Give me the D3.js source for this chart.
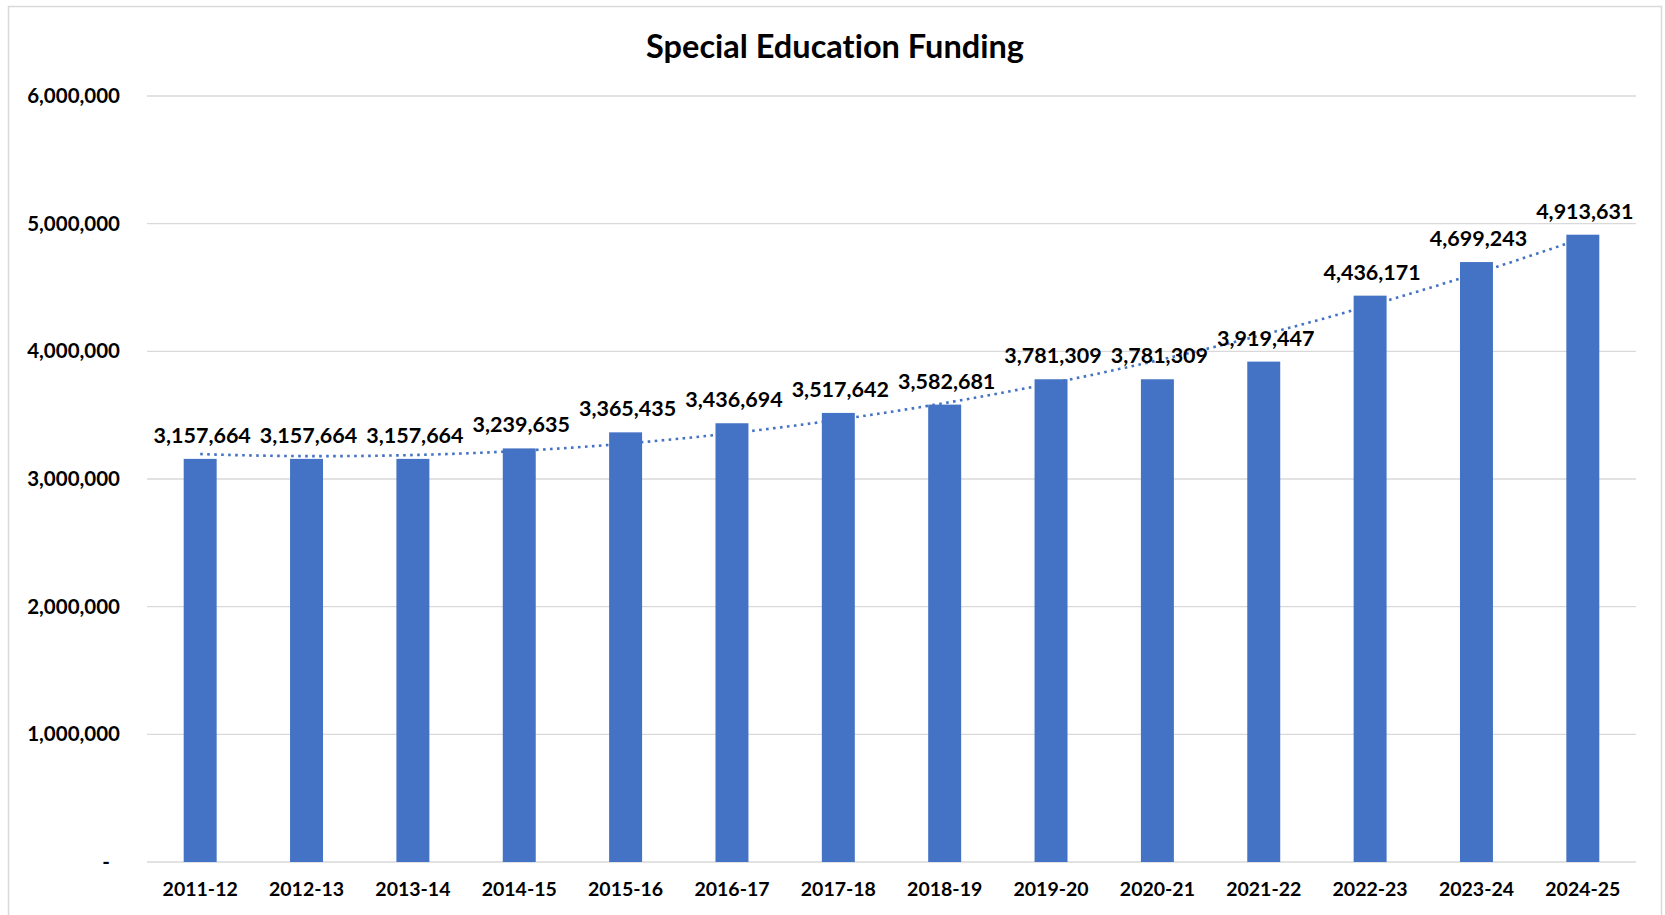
<!DOCTYPE html>
<html>
<head>
<meta charset="utf-8">
<script src="https://cdn.jsdelivr.net/npm/d3@7"></script>
<style>
  html, body { margin: 0; padding: 0; background: #fff; }
  svg { display: block; }
  text { font-family: Lato, "Open Sans", sans-serif; font-weight: 700; fill: #000; font-variant-ligatures: none; }
</style>
</head>
<body>
<svg id="chart" width="1665" height="915"></svg>
<script>
// School years on the category axis
const years = ["2011-12", "2012-13", "2013-14", "2014-15", "2015-16", "2016-17", "2017-18",
               "2018-19", "2019-20", "2020-21", "2021-22", "2022-23", "2023-24", "2024-25"];
// Funding amount per year
const funding = [3157664, 3157664, 3157664, 3239635, 3365435, 3436694, 3517642,
                 3582681, 3781309, 3781309, 3919447, 4436171, 4699243, 4913631];
// Value-axis ticks
const yTicks = [0, 1000000, 2000000, 3000000, 4000000, 5000000, 6000000];

const svg = d3.select("#chart");
const plot = { left: 147, right: 1636, top: 96, bottom: 862 };
const barColor = "#4472C4";

// Outer chart border
svg.append("rect")
  .attr("x", 8.5).attr("y", 6.5)
  .attr("width", 1653).attr("height", 930)
  .attr("fill", "#fff").attr("stroke", "#d9d9d9").attr("stroke-width", 1.5);

const x = d3.scaleBand().domain(years).range([plot.left, plot.right]).paddingInner(0.69).paddingOuter(0.345);
const y = d3.scaleLinear().domain([0, 6000000]).range([plot.bottom, plot.top]);

// Gridlines
svg.append("g")
  .selectAll("line").data(yTicks).join("line")
  .attr("x1", plot.left).attr("x2", plot.right)
  .attr("y1", d => y(d)).attr("y2", d => y(d))
  .attr("stroke", "#d9d9d9").attr("stroke-width", 1.3);

// Value axis labels
const fmt = d3.format(",");
const yAxis = d3.axisLeft(y).tickValues(yTicks).tickSize(0).tickPadding(0)
  .tickFormat(d => d === 0 ? "-" : fmt(d));
const gy = svg.append("g").attr("transform", `translate(120,0)`).call(yAxis);
gy.select(".domain").remove();
gy.selectAll("text").attr("font-size", 20.5).attr("fill", "#000")
  .attr("font-family", "Lato, sans-serif").attr("font-weight", 700)
  .attr("dx", d => d === 0 ? -10 : 0);

// Category axis labels
const xAxis = d3.axisBottom(x).tickSize(0).tickPadding(0);
const gx = svg.append("g").attr("transform", `translate(0,${plot.bottom})`).call(xAxis);
gx.select(".domain").remove();
gx.selectAll("text").attr("font-size", 19.5).attr("fill", "#000")
  .attr("font-family", "Lato, sans-serif").attr("font-weight", 700)
  .attr("dy", 0).attr("y", 34);

// Bars
svg.append("g").selectAll("rect").data(funding).join("rect")
  .attr("x", (d, i) => x(years[i]))
  .attr("y", d => y(d))
  .attr("width", x.bandwidth())
  .attr("height", d => y(0) - y(d))
  .attr("fill", barColor);

// Second-order polynomial trendline (least squares on index 1..n)
function polyFit2(vals) {
  const s = [0, 0, 0, 0, 0], t = [0, 0, 0];
  vals.forEach((v, i) => {
    const xi = i + 1;
    for (let k = 0; k < 5; k++) s[k] += Math.pow(xi, k);
    for (let k = 0; k < 3; k++) t[k] += v * Math.pow(xi, k);
  });
  const A = [[s[0], s[1], s[2]], [s[1], s[2], s[3]], [s[2], s[3], s[4]]];
  const b = t.slice();
  for (let c = 0; c < 3; c++) {
    for (let r = c + 1; r < 3; r++) {
      const f = A[r][c] / A[c][c];
      for (let k = c; k < 3; k++) A[r][k] -= f * A[c][k];
      b[r] -= f * b[c];
    }
  }
  const coef = [0, 0, 0];
  for (let r = 2; r >= 0; r--) {
    let sum = b[r];
    for (let k = r + 1; k < 3; k++) sum -= A[r][k] * coef[k];
    coef[r] = sum / A[r][r];
  }
  return xi => coef[0] + coef[1] * xi + coef[2] * xi * xi;
}
const trend = polyFit2(funding);
const xi = d3.scaleLinear().domain([1, years.length])
  .range([x(years[0]) + x.bandwidth() / 2, x(years[years.length - 1]) + x.bandwidth() / 2]);
const trendPts = d3.range(1, years.length + 0.001, 0.05).map(t => [t, trend(t)]);
svg.append("path")
  .datum(trendPts)
  .attr("d", d3.line().x(d => xi(d[0])).y(d => y(d[1])))
  .attr("fill", "none").attr("stroke", barColor)
  .attr("stroke-width", 2.6).attr("stroke-dasharray", "2.6 4.4");

// Data labels
svg.append("g").selectAll("text").data(funding).join("text")
  .attr("x", (d, i) => x(years[i]) + x.bandwidth() / 2 + 2)
  .attr("y", d => y(d) - 16)
  .attr("text-anchor", "middle")
  .attr("font-size", 21.5)
  .text(d => fmt(d));

// Title
svg.append("text")
  .attr("x", 835).attr("y", 58)
  .attr("text-anchor", "middle")
  .attr("font-size", 32.5)
  .attr("font-weight", 900)
  .text("Special Education Funding");
</script>
</body>
</html>
